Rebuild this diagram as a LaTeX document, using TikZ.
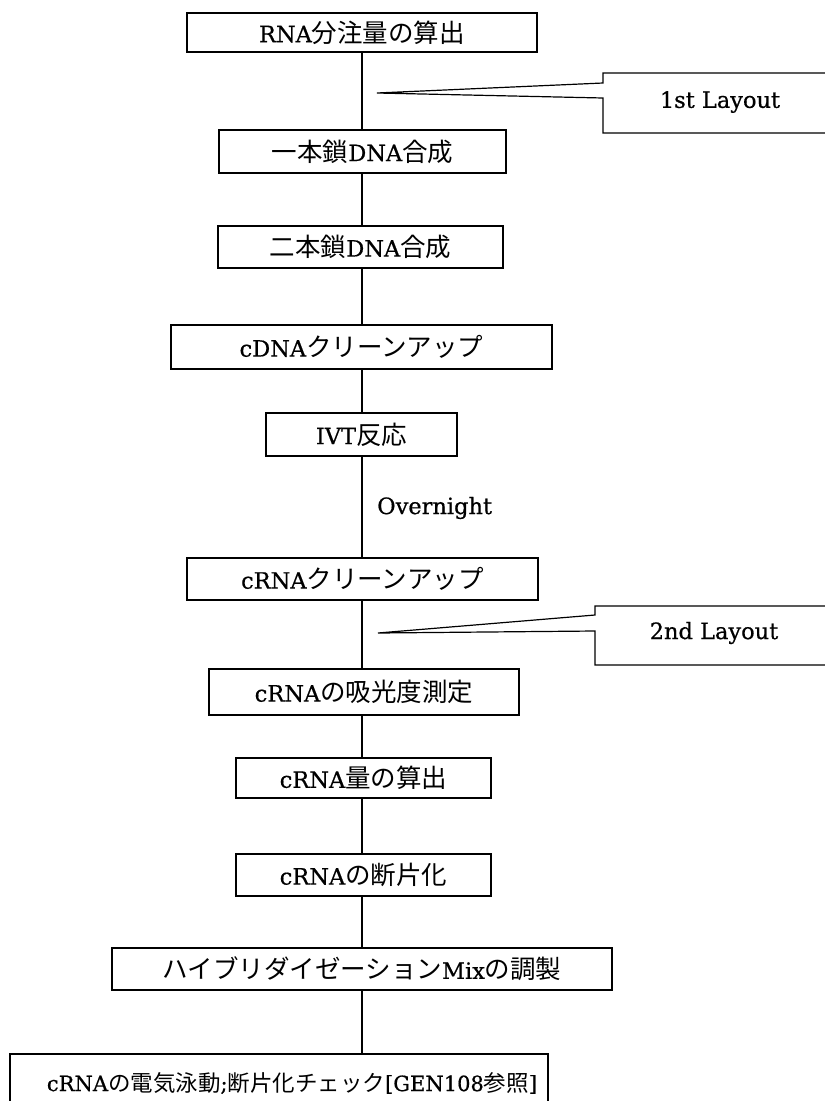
\documentclass[tikz,border=0pt]{standalone}
\usepackage{fontspec}
\setmainfont{DejaVu Serif}[BoldFont={DejaVu Serif},BoldFeatures={FakeBold=0.6}]
\newfontfamily\cjkfont{Noto Sans CJK JP}
\newcommand\jtxt[1]{{\cjkfont\mdseries\fontsize{25.5}{28}\selectfont #1}}
\newcommand\jsml[1]{{\cjkfont\mdseries\fontsize{22.5}{28}\selectfont #1}}
\tikzset{
  stepbox/.style={draw, line width=1.6pt, inner sep=0pt, font=\fontsize{22.5}{26}\selectfont\bfseries},
  smallbox/.style={stepbox, font=\fontsize{21}{26}\selectfont\bfseries},
  lbl/.style={inner sep=0pt, font=\fontsize{22.5}{26}\selectfont\bfseries},
  conn/.style={line width=1.6pt},
  callout/.style={line width=1.2pt, line join=miter}
}
\begin{document}
\begin{tikzpicture}[x=1pt,y=-1pt]
\useasboundingbox (0,0) rectangle (825,1101);
\clip (0,0) rectangle (825,1101);
\fill[white] (0,0) rectangle (825,1101);
\node[stepbox, minimum width=350, minimum height=39] (b1) at (362,32.5) {RNA\jtxt{分注量の算出}};
\node[stepbox, minimum width=287, minimum height=43] (b2) at (362.5,151.5) {\jtxt{一本鎖}DNA\jtxt{合成}};
\node[stepbox, minimum width=285, minimum height=42] (b3) at (360.5,247) {\jtxt{二本鎖}DNA\jtxt{合成}};
\node[stepbox, minimum width=381, minimum height=44] (b4) at (361.5,347) {cDNA\jtxt{クリーンアップ}};
\node[stepbox, minimum width=191, minimum height=43] (b5) at (361.5,434.5) {IVT\jtxt{反応}};
\node[stepbox, minimum width=351, minimum height=42] (b6) at (362.5,579) {cRNA\jtxt{クリーンアップ}};
\node[stepbox, minimum width=310, minimum height=46] (b7) at (364,692) {cRNA\jtxt{の吸光度測定}};
\node[stepbox, minimum width=255, minimum height=40] (b8) at (363.5,778) {cRNA\jtxt{量の算出}};
\node[stepbox, minimum width=255, minimum height=42] (b9) at (363.5,875) {cRNA\jtxt{の断片化}};
\node[stepbox, minimum width=500, minimum height=42] (b10) at (362,969) {\jtxt{ハイブリダイゼーション}Mix\jtxt{の調製}};
\node[smallbox, minimum width=538, minimum height=58] (b11) at (279,1083) {\hspace*{26pt}cRNA\jsml{の電気泳動};\jsml{断片化チェック}[GEN108\jsml{参照}]};
\coordinate (x0) at (362,0);
\foreach \a/\b in {b1/b2,b2/b3,b3/b4,b4/b5,b5/b6,b6/b7,b7/b8,b8/b9,b9/b10,b10/b11}
  \draw[conn] (x0 |- \a.south) -- (x0 |- \b.north);
\node[lbl, anchor=west] (on) at (377,508) {Overnight};
% callout 1
\node[lbl] (c1) at (720,102) {1st Layout};
\coordinate (t1) at (377,93);
\draw[callout] (t1) -- (603,83) -- (603,73) -- (840,73) -- (840,133) -- (603,133) -- (603,98) -- cycle;
% callout 2
\node[lbl] (c2) at (714,633) {2nd Layout};
\coordinate (t2) at (378,633);
\draw[callout] (t2) -- (595,615) -- (595,606) -- (840,606) -- (840,665) -- (595,665) -- (595,631) -- cycle;
\end{tikzpicture}
\end{document}
